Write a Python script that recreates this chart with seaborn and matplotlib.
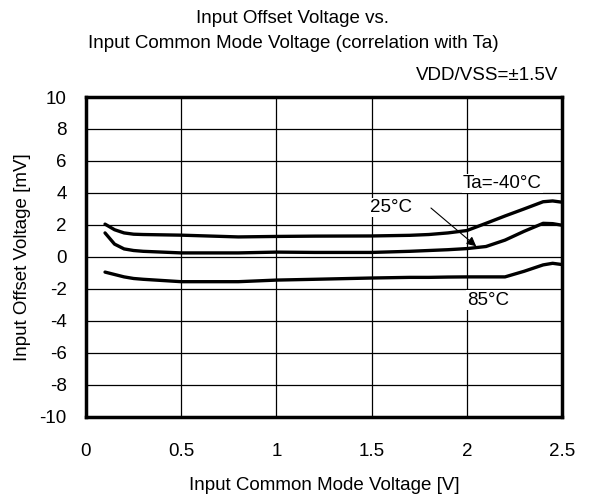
import pandas as pd
import seaborn as sns
import matplotlib.pyplot as plt

# input common mode voltage [V]
vcm = [0.1, 0.15, 0.2, 0.25, 0.3, 0.5, 0.8, 1.0, 1.2, 1.5, 1.7, 1.8, 1.9, 2.0, 2.1, 2.2, 2.3, 2.4, 2.45, 2.5]
# input offset voltage [mV] per temperature
vos_m40 = [2.05, 1.7, 1.5, 1.42, 1.4, 1.36, 1.25, 1.28, 1.3, 1.31, 1.35, 1.4, 1.5, 1.65, 2.1, 2.56, 3.0, 3.45, 3.5, 3.42]
vos_25 = [1.5, 0.8, 0.5, 0.4, 0.35, 0.25, 0.25, 0.3, 0.28, 0.28, 0.35, 0.4, 0.45, 0.52, 0.65, 1.05, 1.6, 2.1, 2.08, 1.98]
vos_85 = [-0.95, -1.1, -1.25, -1.35, -1.4, -1.55, -1.55, -1.45, -1.4, -1.32, -1.28, -1.28, -1.26, -1.25, -1.25, -1.25, -0.9, -0.5, -0.4, -0.48]
temps = ["-40", "25", "85"]

x_ticks = [0, 0.5, 1, 1.5, 2, 2.5]
x_ticklabels = ["0", "0.5", "1", "1.5", "2", "2.5"]
y_ticks = list(range(-10, 11, 2))

df = pd.concat([
    pd.DataFrame({"Vcm": vcm, "Vos": v, "Ta": t})
    for t, v in zip(temps, [vos_m40, vos_25, vos_85])
])

sns.set_style("white")
plt.rcParams["font.family"] = ["Liberation Sans", "DejaVu Sans"]
plt.rcParams["axes.unicode_minus"] = False
for k in ["text.color", "axes.labelcolor", "xtick.color", "ytick.color"]:
    plt.rcParams[k] = "black"
fs = 13.5

fig = plt.figure(figsize=(5.93, 4.95), dpi=100)
ax = fig.add_axes([0.145, 0.158, 0.803, 0.646])

sns.lineplot(data=df, x="Vcm", y="Vos", hue="Ta", palette=["black"] * 3,
             linewidth=2.4, legend=False, ax=ax, sort=False)

ax.set_xlim(0, 2.5)
ax.set_ylim(-10, 10)
ax.set_xticks(x_ticks)
ax.set_xticklabels(x_ticklabels)
ax.set_yticks(y_ticks)
ax.tick_params(length=0, labelsize=fs)
ax.tick_params(axis="y", pad=14)
ax.tick_params(axis="x", pad=19)
ax.grid(True, color="black", linewidth=0.9)
ax.set_axisbelow(True)
for s in ax.spines.values():
    s.set_linewidth(2.5)
    s.set_color("black")

ax.set_xlabel("Input Common Mode Voltage [V]", fontsize=fs, labelpad=12)
ax.set_ylabel("Input Offset Voltage [mV]", fontsize=fs, labelpad=6)

fig.text(0.494, 0.962, "Input Offset Voltage vs.", ha="center", va="center", fontsize=fs)
fig.text(0.494, 0.913, "Input Common Mode Voltage (correlation with Ta)", ha="center", va="center", fontsize=fs)
fig.text(0.942, 0.847, "VDD/VSS=\u00b11.5V", ha="right", va="center", fontsize=fs)

box = dict(facecolor="white", edgecolor="none", pad=1)
ax.text(1.98, 4.6, "Ta=-40\u00b0C", ha="left", va="center", fontsize=fs, bbox=box)
ax.text(1.49, 3.1, "25\u00b0C", ha="left", va="center", fontsize=fs, bbox=box)
ax.text(2.0, -2.7, "85\u00b0C", ha="left", va="center", fontsize=fs, bbox=box)
ax.annotate("", xy=(2.06, 0.55), xytext=(1.80, 3.17),
            arrowprops=dict(arrowstyle="-|>", color="black", lw=0.8, mutation_scale=14))

fig.savefig("out.png", dpi=100)
